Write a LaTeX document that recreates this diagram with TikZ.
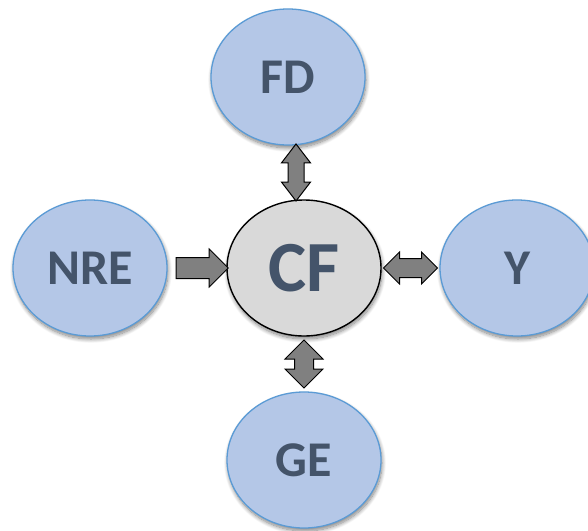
\documentclass[tikz,border=0pt]{standalone}
\usepackage{fontspec}
\setmainfont{Carlito}
\usetikzlibrary{shapes.geometric,shapes.arrows,calc,shadows.blur}
\definecolor{nodefill}{HTML}{B4C7E7}
\definecolor{nodeedge}{HTML}{5B9BD5}
\definecolor{labeltext}{HTML}{44546A}
\definecolor{corefill}{HTML}{D9D9D9}
\definecolor{arrowfill}{HTML}{808080}
\begin{document}
\begin{tikzpicture}[x=1pt,y=-1pt,
  softshadow/.style={blur shadow={shadow xshift=1pt, shadow yshift=-3pt,
      shadow blur radius=4pt, shadow blur steps=12, shadow opacity=50}},
  factor/.style={ellipse, minimum width=154pt, minimum height=136pt,
      inner sep=0pt, fill=nodefill, draw=nodeedge, line width=1.3pt,
      text=labeltext, font=\bfseries\fontsize{50}{50}\selectfont, softshadow},
  core/.style={factor, fill=corefill, draw=black, line width=1.4pt,
      font=\bfseries\fontsize{72}{72}\selectfont},
  blockarrow/.style={draw=black, fill=arrowfill, line width=1pt,
      inner xsep=0pt, minimum width=0pt},
  oneway/.style={blockarrow, single arrow, single arrow head indent=0pt},
  twoway/.style={blockarrow, double arrow, double arrow head indent=0pt}
]
\useasboundingbox (0,0) rectangle (588,530);

% the five factors
\node[core]   (CF)  at (304,268) {CF};
\node[factor] (FD)  at (288,77)  {FD};
\node[factor] (NRE) at (90,268)  {NRE};
\node[factor] (Y)   at (517,268) {Y};
\node[factor] (GE)  at (304,460) {GE};

% block arrows between the factors
\node[oneway, minimum height=52pt, inner ysep=10pt,
      single arrow head extend=8.5pt]
  (a1) at ($(NRE.east)!0.5!(CF.west)$) {};
\node[twoway, minimum height=54pt, inner ysep=9pt,
      double arrow head extend=6.5pt]
  (a2) at ($(CF.east)!0.5!(Y.west)$) {};
\node[twoway, rotate=90, minimum height=57pt, inner ysep=7.5pt,
      double arrow head extend=6.5pt, double arrow tip angle=75]
  (a3) at ($(FD.south)!0.5!(CF.north)$) {};
\node[twoway, rotate=90, minimum height=48pt, inner ysep=9pt,
      double arrow head extend=9.5pt]
  (a4) at ($(CF.south)!0.5!(GE.north)$) {};
\end{tikzpicture}
\end{document}
